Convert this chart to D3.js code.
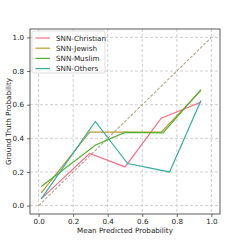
<!DOCTYPE html>
<html>
<head>
<meta charset="utf-8">
<script src="https://cdn.jsdelivr.net/npm/d3@7"></script>
<style>
  body { margin: 0; background: #fff; }
  svg { font-family: "DejaVu Sans", sans-serif; }
</style>
</head>
<body>
<svg id="chart" width="245" height="245"></svg>
<script>
const seriesNames = ['SNN-Christian', 'SNN-Jewish', 'SNN-Muslim', 'SNN-Others'];
const seriesColors = ['#f77189', '#bb9832', '#50b131', '#36ada4'];

const christianX = [0.015, 0.295, 0.50, 0.71, 0.94];
const christianY = [0.04, 0.31, 0.23, 0.52, 0.615];
const jewishX = [0.015, 0.295, 0.50, 0.71, 0.94];
const jewishY = [0.075, 0.437, 0.437, 0.437, 0.685];
const muslimX = [0.015, 0.33, 0.50, 0.72, 0.94];
const muslimY = [0.113, 0.36, 0.435, 0.432, 0.69];
const othersX = [0.015, 0.328, 0.515, 0.758, 0.94];
const othersY = [0.04, 0.50, 0.25, 0.20, 0.625];

const ticks = [0, 0.2, 0.4, 0.6, 0.8, 1.0];

const series = [
  { name: seriesNames[0], xs: christianX, ys: christianY },
  { name: seriesNames[1], xs: jewishX, ys: jewishY },
  { name: seriesNames[2], xs: muslimX, ys: muslimY },
  { name: seriesNames[3], xs: othersX, ys: othersY }
];

const svg = d3.select('#chart');
const margin = { left: 30, right: 25, top: 29, bottom: 31 };
const W = 245, H = 245;

const x = d3.scaleLinear().domain([-0.05, 1.05]).range([margin.left, W - margin.right]);
const y = d3.scaleLinear().domain([-0.05, 1.05]).range([H - margin.bottom, margin.top]);

// grid
const grid = svg.append('g');
grid.selectAll('.gx').data(ticks).join('line')
  .attr('x1', d => x(d)).attr('x2', d => x(d))
  .attr('y1', margin.top).attr('y2', H - margin.bottom)
  .attr('stroke', '#c4c4c4').attr('stroke-width', 0.8).attr('stroke-dasharray', '3,2');
grid.selectAll('.gy').data(ticks).join('line')
  .attr('y1', d => y(d)).attr('y2', d => y(d))
  .attr('x1', margin.left).attr('x2', W - margin.right)
  .attr('stroke', '#c4c4c4').attr('stroke-width', 0.8).attr('stroke-dasharray', '3,2');

// diagonal reference
svg.append('line')
  .attr('x1', x(0)).attr('y1', y(0)).attr('x2', x(1)).attr('y2', y(1))
  .attr('stroke', '#b0a688').attr('stroke-width', 1.1).attr('stroke-dasharray', '3,1.6');

const line = d3.line().x(d => x(d[0])).y(d => y(d[1]));
svg.append('g').selectAll('path').data(series).join('path')
  .attr('d', s => line(s.xs.map((v, i) => [v, s.ys[i]])))
  .attr('fill', 'none')
  .attr('stroke', (s, i) => seriesColors[i])
  .attr('stroke-width', 1.2);

// axes
const xAxis = svg.append('g').attr('transform', `translate(0,${H - margin.bottom})`)
  .call(d3.axisBottom(x).tickValues(ticks).tickFormat(d3.format('.1f')).tickSizeOuter(0).tickSize(3));
const yAxis = svg.append('g').attr('transform', `translate(${margin.left},0)`)
  .call(d3.axisLeft(y).tickValues(ticks).tickFormat(d3.format('.1f')).tickSizeOuter(0).tickSize(3));
[xAxis, yAxis].forEach(a => {
  a.select('.domain').remove();
  a.selectAll('text').attr('font-size', 7.2).attr('fill', '#222').style('font-family', '"DejaVu Sans", sans-serif');
  a.selectAll('line').attr('stroke', '#333').attr('stroke-width', 0.7);
});
xAxis.selectAll('text').attr('y', 9.6).attr('dy', 0);

svg.append('rect')
  .attr('x', margin.left).attr('y', margin.top)
  .attr('width', W - margin.left - margin.right).attr('height', H - margin.top - margin.bottom)
  .attr('fill', 'none').attr('stroke', '#333').attr('stroke-width', 0.8);

svg.append('text')
  .attr('x', (margin.left + W - margin.right) / 2).attr('y', 232.5)
  .attr('text-anchor', 'middle').attr('font-size', 7.2).attr('fill', '#222')
  .text('Mean Predicted Probability');
svg.append('text')
  .attr('transform', `translate(11,${(margin.top + H - margin.bottom) / 2}) rotate(-90)`)
  .attr('text-anchor', 'middle').attr('font-size', 7.2).attr('fill', '#222')
  .text('Ground Truth Probability');

// legend
const lg = svg.append('g').attr('transform', 'translate(32,31)');
lg.append('rect').attr('width', 73).attr('height', 42).attr('rx', 2)
  .attr('fill', 'rgba(255,255,255,0.85)').attr('stroke', '#d5d5d5').attr('stroke-width', 0.8);
const items = lg.selectAll('g').data(seriesNames).join('g')
  .attr('transform', (d, i) => `translate(0,${7 + i * 10.2})`);
items.append('line').attr('x1', 3.5).attr('x2', 18).attr('stroke', (d, i) => seriesColors[i]).attr('stroke-width', 1.2);
items.append('text').attr('x', 24).attr('dy', '0.35em').attr('font-size', 7.2).attr('fill', '#222').text(d => d);
</script>
</body>
</html>
